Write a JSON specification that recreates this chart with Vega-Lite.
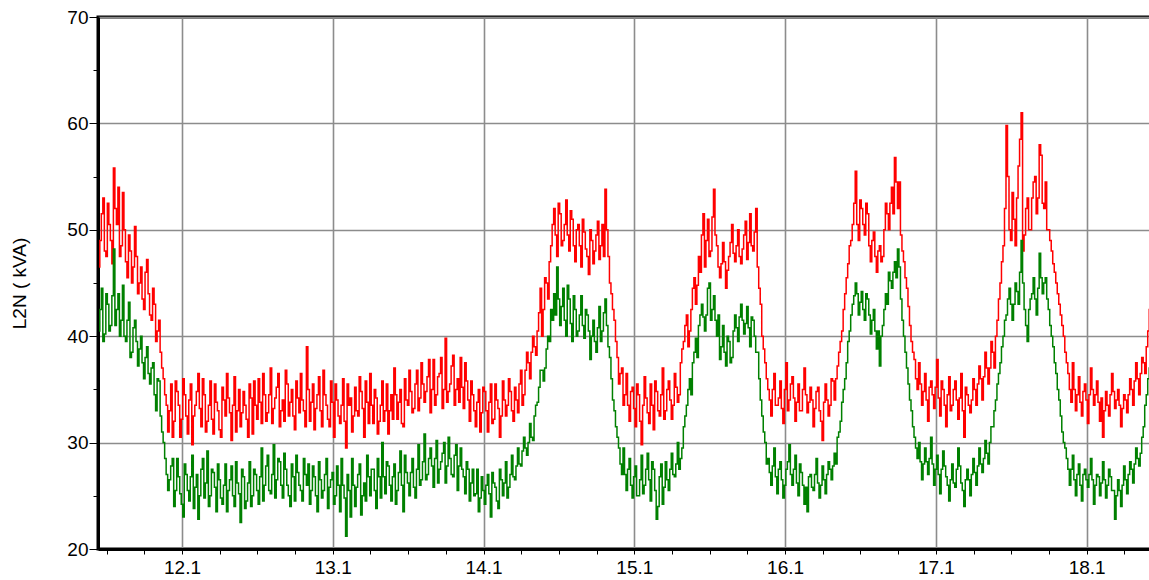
{
  "$schema": "https://vega.github.io/schema/vega-lite/v6.json",
  "width": 1055,
  "height": 532,
  "autosize": {"type": "none"},
  "padding": {"left": 98, "top": 17, "right": 0, "bottom": 31},
  "background": "white",
  "config": {
    "view": {"stroke": "black", "strokeWidth": 3},
    "font": "Liberation Sans",
    "axis": {"labelFont": "Liberation Sans", "titleFont": "Liberation Sans", "labelColor": "black", "titleColor": "black"}
  },
  "title": {
    "text": "Leistung: Von 11.01.2018 10:38:45 Bis 18.01.2018 10:34:00",
    "font": "Liberation Sans",
    "fontSize": 19,
    "fontWeight": "normal",
    "color": "black",
    "anchor": "middle",
    "frame": "group",
    "baseline": "alphabetic",
    "offset": 14,
    "dx": -30
  },
  "data": {"values": [
    {"d":11.45,"r":46.5,"g":40.5},{"d":11.47,"r":51.5,"g":44.5},{"d":11.49,"r":48.0,"g":40.2},{"d":11.51,"r":52.5,"g":43.0},{"d":11.53,"r":49.0,"g":41.0},{"d":11.55,"r":55.8,"g":48.2},{"d":11.57,"r":50.5,"g":42.5},{"d":11.59,"r":47.5,"g":40.0},{"d":11.61,"r":53.5,"g":44.8},
    {"d":11.63,"r":47.0,"g":39.5},{"d":11.65,"r":49.5,"g":43.2},{"d":11.67,"r":45.0,"g":38.5},{"d":11.69,"r":50.3,"g":41.5},{"d":11.71,"r":44.0,"g":37.2},{"d":11.73,"r":46.5,"g":40.0},{"d":11.75,"r":42.5,"g":36.0},{"d":11.77,"r":47.2,"g":39.0},{"d":11.79,"r":42.0,"g":35.5},
    {"d":11.81,"r":44.5,"g":37.5},{"d":11.83,"r":39.5,"g":33.0},{"d":11.85,"r":41.5,"g":35.8},{"d":11.87,"r":37.0,"g":31.0},{"d":11.89,"r":34.5,"g":28.5},
    {"d":11.91,"r":31.0,"g":25.5},{"d":11.93,"r":35.5,"g":27.8},{"d":11.95,"r":32.0,"g":24.0},{"d":11.97,"r":34.8,"g":28.5},{"d":11.99,"r":30.5,"g":25.2},{"d":12.01,"r":36.0,"g":23.0},{"d":12.03,"r":32.5,"g":27.0},{"d":12.05,"r":34.0,"g":24.5},{"d":12.07,"r":29.8,"g":28.8},{"d":12.09,"r":33.5,"g":25.8},
    {"d":12.11,"r":36.5,"g":22.8},{"d":12.13,"r":31.5,"g":27.5},{"d":12.15,"r":34.5,"g":24.8},{"d":12.17,"r":32.0,"g":29.2},{"d":12.19,"r":35.8,"g":25.0},{"d":12.21,"r":30.8,"g":27.2},{"d":12.23,"r":33.8,"g":23.5},{"d":12.25,"r":31.2,"g":26.5},{"d":12.27,"r":35.2,"g":24.2},{"d":12.29,"r":32.5,"g":28.0},
    {"d":12.31,"r":34.2,"g":25.5},{"d":12.33,"r":30.2,"g":27.8},{"d":12.35,"r":36.2,"g":24.0},{"d":12.37,"r":33.0,"g":26.2},{"d":12.39,"r":31.5,"g":22.5},{"d":12.41,"r":34.8,"g":26.8},{"d":12.43,"r":32.2,"g":24.5},{"d":12.45,"r":35.5,"g":28.2},{"d":12.47,"r":30.8,"g":25.0},{"d":12.49,"r":33.5,"g":27.0},
    {"d":12.51,"r":36.0,"g":24.2},{"d":12.53,"r":31.8,"g":29.5},{"d":12.55,"r":34.5,"g":26.0},{"d":12.57,"r":32.8,"g":28.8},{"d":12.59,"r":37.0,"g":25.2},{"d":12.61,"r":33.2,"g":29.8},{"d":12.63,"r":35.2,"g":26.5},{"d":12.65,"r":31.5,"g":28.2},{"d":12.67,"r":34.0,"g":24.8},{"d":12.69,"r":36.8,"g":27.5},
    {"d":12.71,"r":32.5,"g":25.0},{"d":12.73,"r":35.0,"g":28.0},{"d":12.75,"r":31.2,"g":24.5},{"d":12.77,"r":34.2,"g":27.2},{"d":12.79,"r":36.5,"g":25.5},{"d":12.81,"r":33.0,"g":28.5},{"d":12.83,"r":39.0,"g":26.0},{"d":12.85,"r":32.0,"g":24.2},{"d":12.87,"r":35.5,"g":27.8},{"d":12.89,"r":33.2,"g":25.0},
    {"d":12.91,"r":36.2,"g":28.2},{"d":12.93,"r":31.5,"g":24.8},{"d":12.95,"r":34.5,"g":27.0},{"d":12.97,"r":32.2,"g":23.8},{"d":12.99,"r":35.8,"g":26.5},{"d":13.01,"r":30.5,"g":24.2},{"d":13.03,"r":34.0,"g":27.8},{"d":13.05,"r":31.8,"g":23.5},{"d":13.07,"r":36.0,"g":26.0},{"d":13.09,"r":29.5,"g":21.2},
    {"d":13.11,"r":33.5,"g":25.5},{"d":13.13,"r":31.0,"g":28.5},{"d":13.15,"r":35.2,"g":24.0},{"d":13.17,"r":32.5,"g":27.0},{"d":13.19,"r":34.8,"g":23.2},{"d":13.21,"r":30.5,"g":26.2},{"d":13.23,"r":33.8,"g":28.8},{"d":13.25,"r":36.5,"g":25.0},{"d":13.27,"r":31.8,"g":27.5},{"d":13.29,"r":34.2,"g":23.8},
    {"d":13.31,"r":32.0,"g":26.8},{"d":13.33,"r":35.8,"g":30.0},{"d":13.35,"r":33.0,"g":25.2},{"d":13.37,"r":30.8,"g":27.8},{"d":13.39,"r":34.5,"g":24.5},{"d":13.41,"r":37.0,"g":28.0},{"d":13.43,"r":32.2,"g":25.5},{"d":13.45,"r":35.0,"g":29.2},{"d":13.47,"r":31.5,"g":23.5},{"d":13.49,"r":34.0,"g":27.2},
    {"d":13.51,"r":36.8,"g":25.0},{"d":13.53,"r":32.8,"g":28.5},{"d":13.55,"r":35.5,"g":24.8},{"d":13.57,"r":33.0,"g":29.8},{"d":13.59,"r":37.5,"g":26.5},{"d":13.61,"r":33.8,"g":30.8},{"d":13.63,"r":36.2,"g":27.0},{"d":13.65,"r":32.8,"g":29.5},{"d":13.67,"r":37.8,"g":25.8},{"d":13.69,"r":34.5,"g":30.2},
    {"d":13.71,"r":36.5,"g":27.5},{"d":13.73,"r":33.2,"g":29.0},{"d":13.75,"r":39.8,"g":26.2},{"d":13.77,"r":34.8,"g":30.5},{"d":13.79,"r":37.2,"g":27.0},{"d":13.81,"r":33.5,"g":28.8},{"d":13.83,"r":36.0,"g":25.5},{"d":13.85,"r":38.0,"g":29.5},{"d":13.87,"r":33.2,"g":26.8},{"d":13.89,"r":35.8,"g":28.2},
    {"d":13.91,"r":32.0,"g":24.5},{"d":13.93,"r":34.5,"g":27.5},{"d":13.95,"r":31.5,"g":25.2},{"d":13.97,"r":35.0,"g":23.5},{"d":13.99,"r":32.8,"g":26.8},{"d":14.01,"r":34.8,"g":24.2},{"d":14.03,"r":31.0,"g":27.0},{"d":14.05,"r":35.5,"g":23.0},{"d":14.07,"r":32.2,"g":26.2},{"d":14.09,"r":34.0,"g":24.5},
    {"d":14.11,"r":30.5,"g":27.5},{"d":14.13,"r":35.8,"g":25.0},{"d":14.15,"r":32.5,"g":28.2},{"d":14.17,"r":36.0,"g":25.8},{"d":14.19,"r":33.0,"g":28.8},{"d":14.21,"r":35.2,"g":26.5},{"d":14.23,"r":32.8,"g":29.5},
    {"d":14.25,"r":36.8,"g":27.8},{"d":14.27,"r":34.5,"g":30.5},{"d":14.29,"r":38.5,"g":28.8},{"d":14.31,"r":36.0,"g":31.8},{"d":14.33,"r":40.0,"g":30.2},{"d":14.35,"r":38.2,"g":33.5},{"d":14.37,"r":42.2,"g":35.2},{"d":14.39,"r":40.0,"g":36.8},{"d":14.41,"r":45.5,"g":37.0},{"d":14.43,"r":43.5,"g":40.0},{"d":14.45,"r":48.5,"g":42.5},
    {"d":14.47,"r":52.0,"g":44.0},{"d":14.49,"r":47.5,"g":46.5},{"d":14.51,"r":51.5,"g":41.0},{"d":14.53,"r":49.0,"g":44.5},{"d":14.55,"r":52.8,"g":40.0},{"d":14.57,"r":48.0,"g":43.5},{"d":14.59,"r":51.0,"g":39.5},{"d":14.61,"r":47.0,"g":42.5},{"d":14.63,"r":50.5,"g":40.5},{"d":14.65,"r":46.5,"g":43.8},
    {"d":14.67,"r":49.8,"g":39.8},{"d":14.69,"r":47.5,"g":42.0},{"d":14.71,"r":50.0,"g":37.8},{"d":14.73,"r":46.8,"g":41.5},{"d":14.75,"r":49.5,"g":38.5},{"d":14.77,"r":47.2,"g":42.8},{"d":14.79,"r":50.5,"g":40.5},{"d":14.81,"r":53.8,"g":43.5},
    {"d":14.83,"r":47.5,"g":39.0},{"d":14.85,"r":44.0,"g":36.0},{"d":14.87,"r":41.5,"g":33.0},{"d":14.89,"r":38.0,"g":30.5},{"d":14.91,"r":36.5,"g":28.0},{"d":14.93,"r":33.5,"g":29.5},
    {"d":14.95,"r":36.5,"g":25.5},{"d":14.97,"r":32.0,"g":28.5},{"d":14.99,"r":35.2,"g":24.8},{"d":15.01,"r":31.5,"g":27.8},{"d":15.03,"r":34.5,"g":25.0},{"d":15.05,"r":29.8,"g":28.8},{"d":15.07,"r":36.2,"g":26.0},{"d":15.09,"r":32.8,"g":29.0},{"d":15.11,"r":35.5,"g":24.5},{"d":15.13,"r":31.2,"g":27.5},
    {"d":15.15,"r":34.8,"g":22.8},{"d":15.17,"r":32.5,"g":26.8},{"d":15.19,"r":37.0,"g":24.2},{"d":15.21,"r":33.0,"g":28.2},{"d":15.23,"r":35.8,"g":25.5},{"d":15.25,"r":32.2,"g":29.0},{"d":15.27,"r":36.5,"g":26.8},{"d":15.29,"r":33.8,"g":30.0},{"d":15.31,"r":37.5,"g":28.5},
    {"d":15.33,"r":39.5,"g":31.5},{"d":15.35,"r":42.0,"g":33.5},{"d":15.37,"r":40.5,"g":36.0},{"d":15.39,"r":44.5,"g":37.5},{"d":15.41,"r":43.0,"g":39.8},{"d":15.43,"r":47.5,"g":41.0},{"d":15.45,"r":49.5,"g":43.0},
    {"d":15.47,"r":46.5,"g":40.5},{"d":15.49,"r":51.0,"g":44.5},{"d":15.51,"r":48.0,"g":41.5},{"d":15.53,"r":53.8,"g":43.8},{"d":15.55,"r":48.5,"g":40.0},{"d":15.57,"r":45.5,"g":37.8},{"d":15.59,"r":48.8,"g":41.0},{"d":15.61,"r":44.5,"g":37.2},{"d":15.63,"r":47.5,"g":39.5},{"d":15.65,"r":50.5,"g":38.0},
    {"d":15.67,"r":47.0,"g":42.0},{"d":15.69,"r":50.0,"g":39.5},{"d":15.71,"r":46.8,"g":43.0},{"d":15.73,"r":49.5,"g":40.2},{"d":15.75,"r":47.2,"g":42.8},{"d":15.77,"r":51.5,"g":39.0},{"d":15.79,"r":48.0,"g":41.5},{"d":15.81,"r":52.0,"g":38.5},
    {"d":15.83,"r":44.5,"g":36.0},{"d":15.85,"r":40.0,"g":32.5},{"d":15.87,"r":37.5,"g":30.0},
    {"d":15.89,"r":35.0,"g":28.5},{"d":15.91,"r":32.5,"g":26.0},{"d":15.93,"r":36.5,"g":29.5},{"d":15.95,"r":33.5,"g":25.2},{"d":15.97,"r":35.8,"g":28.2},{"d":15.99,"r":31.8,"g":24.8},{"d":16.01,"r":37.5,"g":27.5},{"d":16.03,"r":34.0,"g":29.8},{"d":16.05,"r":36.2,"g":26.0},{"d":16.07,"r":32.0,"g":28.8},
    {"d":16.09,"r":35.5,"g":25.0},{"d":16.11,"r":33.0,"g":27.2},{"d":16.13,"r":37.0,"g":24.2},{"d":16.15,"r":32.8,"g":23.5},{"d":16.17,"r":35.2,"g":27.0},{"d":16.19,"r":31.5,"g":25.5},{"d":16.21,"r":34.8,"g":28.5},{"d":16.23,"r":33.0,"g":24.8},{"d":16.25,"r":30.2,"g":27.8},{"d":16.27,"r":35.5,"g":25.2},
    {"d":16.29,"r":32.5,"g":28.2},{"d":16.31,"r":36.0,"g":26.5},{"d":16.33,"r":34.0,"g":29.0},{"d":16.35,"r":37.2,"g":30.5},
    {"d":16.37,"r":39.5,"g":32.0},{"d":16.39,"r":42.5,"g":35.0},{"d":16.41,"r":45.5,"g":37.5},{"d":16.43,"r":48.5,"g":40.5},
    {"d":16.45,"r":50.5,"g":43.0},{"d":16.47,"r":55.5,"g":45.0},{"d":16.49,"r":49.0,"g":42.0},{"d":16.51,"r":52.0,"g":44.2},{"d":16.53,"r":49.5,"g":41.5},{"d":16.55,"r":51.5,"g":43.5},{"d":16.57,"r":47.0,"g":40.2},{"d":16.59,"r":49.8,"g":42.5},{"d":16.61,"r":46.0,"g":38.8},{"d":16.63,"r":48.5,"g":37.2},
    {"d":16.65,"r":47.5,"g":41.0},{"d":16.67,"r":52.5,"g":44.0},{"d":16.69,"r":50.0,"g":46.0},{"d":16.71,"r":54.0,"g":44.5},{"d":16.73,"r":56.8,"g":47.0},{"d":16.75,"r":52.0,"g":48.2},{"d":16.77,"r":49.5,"g":43.5},
    {"d":16.79,"r":47.0,"g":40.0},{"d":16.81,"r":44.5,"g":37.0},{"d":16.83,"r":41.0,"g":34.0},{"d":16.85,"r":38.5,"g":31.5},{"d":16.87,"r":36.0,"g":29.5},
    {"d":16.89,"r":37.5,"g":30.0},{"d":16.91,"r":33.5,"g":26.5},{"d":16.93,"r":36.5,"g":29.5},{"d":16.95,"r":32.0,"g":27.0},{"d":16.97,"r":35.8,"g":30.5},{"d":16.99,"r":33.2,"g":26.0},{"d":17.01,"r":37.8,"g":28.8},{"d":17.03,"r":32.5,"g":25.2},{"d":17.05,"r":35.0,"g":29.2},{"d":17.07,"r":31.5,"g":26.8},
    {"d":17.09,"r":36.2,"g":24.5},{"d":17.11,"r":33.5,"g":28.0},{"d":17.13,"r":35.8,"g":25.8},{"d":17.15,"r":32.2,"g":29.5},{"d":17.17,"r":36.5,"g":26.2},{"d":17.19,"r":30.5,"g":24.0},{"d":17.21,"r":34.5,"g":27.5},{"d":17.23,"r":32.8,"g":25.0},{"d":17.25,"r":36.0,"g":28.5},{"d":17.27,"r":33.5,"g":26.0},
    {"d":17.29,"r":37.2,"g":29.5},{"d":17.31,"r":34.0,"g":27.2},{"d":17.33,"r":38.5,"g":30.2},{"d":17.35,"r":35.5,"g":28.0},{"d":17.37,"r":39.5,"g":31.5},{"d":17.39,"r":37.0,"g":33.0},
    {"d":17.41,"r":41.5,"g":35.5},{"d":17.43,"r":45.0,"g":37.5},{"d":17.45,"r":48.5,"g":40.0},{"d":17.47,"r":59.8,"g":42.0},
    {"d":17.49,"r":50.0,"g":44.5},{"d":17.51,"r":53.5,"g":41.5},{"d":17.53,"r":48.5,"g":45.0},{"d":17.55,"r":56.0,"g":43.0},{"d":17.57,"r":61.0,"g":49.0},{"d":17.59,"r":49.5,"g":42.5},{"d":17.61,"r":53.0,"g":39.5},{"d":17.63,"r":50.0,"g":43.5},{"d":17.65,"r":54.5,"g":45.5},{"d":17.67,"r":51.5,"g":42.0},
    {"d":17.69,"r":58.0,"g":47.8},{"d":17.71,"r":52.5,"g":44.0},{"d":17.73,"r":54.5,"g":45.5},{"d":17.75,"r":50.0,"g":42.5},
    {"d":17.77,"r":48.0,"g":40.0},{"d":17.79,"r":46.0,"g":37.5},{"d":17.81,"r":44.0,"g":35.0},{"d":17.83,"r":42.0,"g":32.5},{"d":17.85,"r":40.0,"g":30.0},{"d":17.87,"r":37.5,"g":28.5},
    {"d":17.89,"r":35.0,"g":26.0},{"d":17.91,"r":37.5,"g":28.8},{"d":17.93,"r":33.0,"g":25.0},{"d":17.95,"r":36.2,"g":28.0},{"d":17.97,"r":32.5,"g":24.5},{"d":17.99,"r":35.5,"g":27.5},{"d":18.01,"r":31.8,"g":25.8},{"d":18.03,"r":37.0,"g":28.5},{"d":18.05,"r":33.5,"g":24.2},{"d":18.07,"r":35.8,"g":27.0},
    {"d":18.09,"r":32.0,"g":25.0},{"d":18.11,"r":30.5,"g":28.2},{"d":18.13,"r":34.8,"g":24.8},{"d":18.15,"r":32.5,"g":27.5},{"d":18.17,"r":36.5,"g":25.5},{"d":18.19,"r":33.2,"g":22.8},{"d":18.21,"r":35.0,"g":26.5},{"d":18.23,"r":31.5,"g":24.0},{"d":18.25,"r":34.5,"g":27.8},{"d":18.27,"r":32.8,"g":25.2},
    {"d":18.29,"r":36.0,"g":28.2},{"d":18.31,"r":33.5,"g":26.2},{"d":18.33,"r":37.5,"g":29.5},{"d":18.35,"r":34.5,"g":27.8},{"d":18.37,"r":38.0,"g":30.5},{"d":18.39,"r":36.5,"g":33.5},{"d":18.41,"r":40.5,"g":36.0},{"d":18.43,"r":46.0,"g":38.5},

    {"d":11.46,"r":49.0,"g":42.5},{"d":11.48,"r":53.0,"g":39.5},{"d":11.50,"r":47.5,"g":44.0},{"d":11.52,"r":50.5,"g":40.5},{"d":11.54,"r":46.8,"g":43.8},{"d":11.56,"r":52.0,"g":41.0},{"d":11.58,"r":54.0,"g":44.0},{"d":11.60,"r":48.5,"g":41.5},{"d":11.62,"r":50.0,"g":40.0},
    {"d":11.64,"r":45.5,"g":41.5},{"d":11.66,"r":48.0,"g":38.0},{"d":11.68,"r":46.5,"g":40.8},{"d":11.70,"r":47.5,"g":39.5},{"d":11.72,"r":45.0,"g":38.8},{"d":11.74,"r":43.5,"g":37.5},{"d":11.76,"r":46.0,"g":38.0},{"d":11.78,"r":44.0,"g":36.5},{"d":11.80,"r":41.5,"g":37.0},
    {"d":11.82,"r":43.0,"g":34.5},{"d":11.84,"r":40.5,"g":36.0},{"d":11.86,"r":38.5,"g":32.5},{"d":11.88,"r":36.0,"g":30.0},{"d":11.90,"r":33.5,"g":27.0},
    {"d":11.92,"r":33.0,"g":26.5},{"d":11.94,"r":30.5,"g":28.5},{"d":11.96,"r":35.8,"g":25.5},{"d":11.98,"r":33.5,"g":26.8},{"d":12.00,"r":32.2,"g":24.2},{"d":12.02,"r":34.5,"g":28.0},{"d":12.04,"r":30.8,"g":25.5},{"d":12.06,"r":35.5,"g":26.8},{"d":12.08,"r":32.5,"g":23.8},{"d":12.10,"r":34.8,"g":27.0},
    {"d":12.12,"r":33.2,"g":25.0},{"d":12.14,"r":36.0,"g":28.5},{"d":12.16,"r":31.0,"g":26.2},{"d":12.18,"r":33.5,"g":24.0},{"d":12.20,"r":32.2,"g":27.5},{"d":12.22,"r":35.5,"g":25.8},{"d":12.24,"r":33.0,"g":28.0},{"d":12.26,"r":30.5,"g":24.8},{"d":12.28,"r":34.0,"g":26.0},{"d":12.30,"r":36.5,"g":23.5},
    {"d":12.32,"r":32.8,"g":26.5},{"d":12.34,"r":33.5,"g":25.0},{"d":12.36,"r":31.0,"g":28.2},{"d":12.38,"r":35.0,"g":25.2},{"d":12.40,"r":32.8,"g":27.5},{"d":12.42,"r":33.5,"g":23.8},{"d":12.44,"r":30.5,"g":26.2},{"d":12.46,"r":34.2,"g":24.0},{"d":12.48,"r":35.8,"g":27.5},{"d":12.50,"r":32.2,"g":25.5},
    {"d":12.52,"r":33.8,"g":26.8},{"d":12.54,"r":36.5,"g":24.5},{"d":12.56,"r":32.0,"g":27.8},{"d":12.58,"r":34.5,"g":25.5},{"d":12.60,"r":31.8,"g":27.0},{"d":12.62,"r":34.2,"g":24.8},{"d":12.64,"r":36.5,"g":28.5},{"d":12.66,"r":33.0,"g":26.0},{"d":12.68,"r":32.0,"g":29.0},{"d":12.70,"r":35.5,"g":26.0},
    {"d":12.72,"r":33.8,"g":24.0},{"d":12.74,"r":32.5,"g":26.8},{"d":12.76,"r":35.8,"g":28.8},{"d":12.78,"r":32.8,"g":26.0},{"d":12.80,"r":34.0,"g":24.5},{"d":12.82,"r":31.5,"g":27.0},{"d":12.84,"r":35.0,"g":28.0},{"d":12.86,"r":33.8,"g":25.5},{"d":12.88,"r":31.2,"g":26.8},{"d":12.90,"r":34.5,"g":23.5},
    {"d":12.92,"r":33.0,"g":26.5},{"d":12.94,"r":36.8,"g":25.5},{"d":12.96,"r":33.5,"g":28.5},{"d":12.98,"r":31.5,"g":25.8},{"d":13.00,"r":33.8,"g":27.2},{"d":13.02,"r":35.5,"g":25.0},{"d":13.04,"r":32.5,"g":26.0},{"d":13.06,"r":33.5,"g":28.5},{"d":13.08,"r":32.0,"g":24.8},{"d":13.10,"r":35.5,"g":27.0},
    {"d":13.12,"r":34.2,"g":23.0},{"d":13.14,"r":32.5,"g":26.0},{"d":13.16,"r":33.0,"g":25.8},{"d":13.18,"r":36.2,"g":28.0},{"d":13.20,"r":33.2,"g":25.0},{"d":13.22,"r":35.8,"g":24.5},{"d":13.24,"r":31.8,"g":26.8},{"d":13.26,"r":33.5,"g":27.5},{"d":13.28,"r":35.0,"g":25.5},{"d":13.30,"r":30.8,"g":28.5},
    {"d":13.32,"r":33.5,"g":24.8},{"d":13.34,"r":32.0,"g":26.8},{"d":13.36,"r":35.5,"g":28.2},{"d":13.38,"r":33.0,"g":26.0},{"d":13.40,"r":32.2,"g":26.8},{"d":13.42,"r":34.5,"g":24.2},{"d":13.44,"r":33.8,"g":27.2},{"d":13.46,"r":31.8,"g":26.0},{"d":13.48,"r":36.0,"g":28.8},{"d":13.50,"r":33.5,"g":26.2},
    {"d":13.52,"r":34.8,"g":27.2},{"d":13.54,"r":33.2,"g":25.8},{"d":13.56,"r":36.8,"g":27.5},{"d":13.58,"r":34.2,"g":26.0},{"d":13.60,"r":35.5,"g":28.2},{"d":13.62,"r":34.8,"g":26.5},{"d":13.64,"r":37.8,"g":28.5},{"d":13.66,"r":35.0,"g":27.8},{"d":13.68,"r":33.5,"g":28.5},{"d":13.70,"r":36.2,"g":26.2},
    {"d":13.72,"r":38.0,"g":28.2},{"d":13.74,"r":35.0,"g":30.0},{"d":13.76,"r":33.8,"g":27.8},{"d":13.78,"r":35.5,"g":28.5},{"d":13.80,"r":38.2,"g":26.8},{"d":13.82,"r":35.0,"g":29.8},{"d":13.84,"r":33.8,"g":27.8},{"d":13.86,"r":35.2,"g":27.5},{"d":13.88,"r":37.5,"g":25.2},{"d":13.90,"r":34.0,"g":27.5},
    {"d":13.92,"r":35.8,"g":26.2},{"d":13.94,"r":33.0,"g":25.0},{"d":13.96,"r":33.8,"g":27.5},{"d":13.98,"r":31.0,"g":24.8},{"d":14.00,"r":35.2,"g":25.5},{"d":14.02,"r":33.0,"g":26.0},{"d":14.04,"r":33.8,"g":25.2},{"d":14.06,"r":31.8,"g":27.2},{"d":14.08,"r":35.5,"g":25.8},{"d":14.10,"r":33.2,"g":23.8},
    {"d":14.12,"r":32.5,"g":26.5},{"d":14.14,"r":34.0,"g":26.2},{"d":14.16,"r":33.5,"g":24.8},{"d":14.18,"r":34.8,"g":27.0},{"d":14.20,"r":32.0,"g":26.8},{"d":14.22,"r":34.0,"g":27.8},{"d":14.24,"r":35.5,"g":28.0},
    {"d":14.26,"r":33.5,"g":29.2},{"d":14.28,"r":36.8,"g":29.5},{"d":14.30,"r":37.5,"g":30.0},{"d":14.32,"r":38.5,"g":30.5},{"d":14.34,"r":39.0,"g":32.5},{"d":14.36,"r":40.5,"g":33.8},{"d":14.38,"r":44.5,"g":36.8},{"d":14.40,"r":42.5,"g":35.8},{"d":14.42,"r":45.0,"g":38.8},{"d":14.44,"r":47.0,"g":39.5},{"d":14.46,"r":50.5,"g":41.5},
    {"d":14.48,"r":49.5,"g":42.0},{"d":14.50,"r":52.5,"g":43.5},{"d":14.52,"r":48.5,"g":42.8},{"d":14.54,"r":50.5,"g":41.5},{"d":14.56,"r":49.5,"g":44.8},{"d":14.58,"r":51.8,"g":41.2},{"d":14.60,"r":48.5,"g":43.8},{"d":14.62,"r":50.0,"g":40.0},{"d":14.64,"r":48.5,"g":42.0},{"d":14.66,"r":51.0,"g":41.0},
    {"d":14.68,"r":48.2,"g":42.5},{"d":14.70,"r":45.8,"g":40.5},{"d":14.72,"r":49.0,"g":40.0},{"d":14.74,"r":48.0,"g":39.5},{"d":14.76,"r":50.8,"g":40.8},{"d":14.78,"r":48.5,"g":39.5},{"d":14.80,"r":47.5,"g":42.2},
    {"d":14.82,"r":50.0,"g":41.0},{"d":14.84,"r":45.0,"g":38.0},{"d":14.86,"r":42.5,"g":34.0},{"d":14.88,"r":39.5,"g":31.5},{"d":14.90,"r":35.5,"g":29.5},{"d":14.92,"r":37.0,"g":27.0},{"d":14.94,"r":34.5,"g":27.0},
    {"d":14.96,"r":33.5,"g":27.5},{"d":14.98,"r":34.8,"g":26.0},{"d":15.00,"r":33.2,"g":26.8},{"d":15.02,"r":35.5,"g":25.0},{"d":15.04,"r":32.0,"g":26.5},{"d":15.06,"r":33.5,"g":25.2},{"d":15.08,"r":34.2,"g":27.5},{"d":15.10,"r":31.8,"g":26.5},{"d":15.12,"r":33.5,"g":28.2},{"d":15.14,"r":35.8,"g":25.5},
    {"d":15.16,"r":33.0,"g":24.0},{"d":15.18,"r":34.5,"g":28.0},{"d":15.20,"r":32.2,"g":25.8},{"d":15.22,"r":35.0,"g":26.5},{"d":15.24,"r":34.0,"g":27.5},{"d":15.26,"r":33.5,"g":27.0},{"d":15.28,"r":35.2,"g":28.0},{"d":15.30,"r":34.5,"g":27.5},{"d":15.32,"r":38.8,"g":29.5},
    {"d":15.34,"r":41.0,"g":32.5},{"d":15.36,"r":39.0,"g":35.0},{"d":15.38,"r":42.5,"g":34.5},{"d":15.40,"r":45.5,"g":38.5},{"d":15.42,"r":44.8,"g":38.0},{"d":15.44,"r":46.0,"g":42.0},{"d":15.46,"r":51.5,"g":41.8},
    {"d":15.48,"r":49.0,"g":42.0},{"d":15.50,"r":47.5,"g":45.0},{"d":15.52,"r":51.2,"g":42.5},{"d":15.54,"r":49.5,"g":41.5},{"d":15.56,"r":46.5,"g":42.0},{"d":15.58,"r":46.8,"g":39.0},{"d":15.60,"r":47.0,"g":38.5},{"d":15.62,"r":46.2,"g":40.0},{"d":15.64,"r":48.8,"g":37.5},{"d":15.66,"r":47.8,"g":40.5},
    {"d":15.68,"r":48.5,"g":40.8},{"d":15.70,"r":47.5,"g":41.8},{"d":15.72,"r":48.2,"g":41.5},{"d":15.74,"r":50.8,"g":41.2},{"d":15.76,"r":48.8,"g":40.8},{"d":15.78,"r":48.5,"g":41.8},{"d":15.80,"r":49.8,"g":40.0},
    {"d":15.82,"r":46.5,"g":38.5},{"d":15.84,"r":43.0,"g":34.0},{"d":15.86,"r":38.8,"g":31.0},{"d":15.88,"r":36.0,"g":28.0},
    {"d":15.90,"r":34.0,"g":27.2},{"d":15.92,"r":35.0,"g":27.8},{"d":15.94,"r":33.5,"g":26.8},{"d":15.96,"r":34.2,"g":27.5},{"d":15.98,"r":33.2,"g":26.5},{"d":16.00,"r":35.0,"g":26.0},{"d":16.02,"r":33.0,"g":28.2},{"d":16.04,"r":35.5,"g":27.0},{"d":16.06,"r":34.2,"g":27.5},{"d":16.08,"r":33.8,"g":26.2},
    {"d":16.10,"r":33.0,"g":28.0},{"d":16.12,"r":35.0,"g":26.0},{"d":16.14,"r":34.5,"g":25.8},{"d":16.16,"r":33.8,"g":26.8},{"d":16.18,"r":34.0,"g":25.8},{"d":16.20,"r":33.2,"g":27.0},{"d":16.22,"r":35.2,"g":26.2},{"d":16.24,"r":32.0,"g":26.0},{"d":16.26,"r":33.8,"g":26.5},{"d":16.28,"r":34.0,"g":27.0},
    {"d":16.30,"r":33.5,"g":27.5},{"d":16.32,"r":35.8,"g":27.8},{"d":16.34,"r":36.0,"g":28.0},{"d":16.36,"r":38.5,"g":31.0},
    {"d":16.38,"r":40.5,"g":33.8},{"d":16.40,"r":44.0,"g":36.0},{"d":16.42,"r":46.8,"g":39.5},{"d":16.44,"r":49.0,"g":42.0},
    {"d":16.46,"r":52.5,"g":43.8},{"d":16.48,"r":50.5,"g":44.0},{"d":16.50,"r":52.8,"g":43.2},{"d":16.52,"r":50.5,"g":42.5},{"d":16.54,"r":52.5,"g":44.0},{"d":16.56,"r":48.5,"g":42.0},{"d":16.58,"r":49.0,"g":41.5},{"d":16.60,"r":47.5,"g":40.5},{"d":16.62,"r":48.0,"g":40.5},{"d":16.64,"r":47.0,"g":40.0},
    {"d":16.66,"r":50.0,"g":42.5},{"d":16.68,"r":51.5,"g":43.0},{"d":16.70,"r":52.5,"g":45.2},{"d":16.72,"r":51.5,"g":46.0},{"d":16.74,"r":54.5,"g":45.5},{"d":16.76,"r":54.5,"g":46.5},{"d":16.78,"r":48.0,"g":41.5},
    {"d":16.80,"r":45.5,"g":38.5},{"d":16.82,"r":42.8,"g":35.5},{"d":16.84,"r":39.5,"g":33.0},{"d":16.86,"r":37.8,"g":30.5},{"d":16.88,"r":35.0,"g":28.5},
    {"d":16.90,"r":35.5,"g":28.2},{"d":16.92,"r":34.8,"g":28.0},{"d":16.94,"r":34.0,"g":28.2},{"d":16.96,"r":35.2,"g":28.5},{"d":16.98,"r":34.5,"g":28.0},{"d":17.00,"r":35.2,"g":27.5},{"d":17.02,"r":34.2,"g":27.0},{"d":17.04,"r":35.8,"g":27.5},{"d":17.06,"r":33.5,"g":27.8},{"d":17.08,"r":34.5,"g":26.0},
    {"d":17.10,"r":33.0,"g":26.5},{"d":17.12,"r":35.0,"g":26.2},{"d":17.14,"r":34.0,"g":27.5},{"d":17.16,"r":34.2,"g":27.8},{"d":17.18,"r":33.0,"g":25.5},{"d":17.20,"r":35.2,"g":26.5},{"d":17.22,"r":33.5,"g":26.5},{"d":17.24,"r":34.0,"g":27.0},{"d":17.26,"r":35.0,"g":27.2},{"d":17.28,"r":35.5,"g":27.8},
    {"d":17.30,"r":36.0,"g":28.0},{"d":17.32,"r":36.2,"g":28.5},{"d":17.34,"r":37.0,"g":29.0},{"d":17.36,"r":37.0,"g":30.0},{"d":17.38,"r":38.5,"g":31.5},{"d":17.40,"r":40.0,"g":34.0},
    {"d":17.42,"r":43.5,"g":36.5},{"d":17.44,"r":47.0,"g":39.0},{"d":17.46,"r":52.0,"g":41.5},{"d":17.48,"r":55.0,"g":43.5},
    {"d":17.50,"r":49.0,"g":43.0},{"d":17.52,"r":51.0,"g":43.0},{"d":17.54,"r":53.0,"g":44.2},{"d":17.56,"r":58.5,"g":46.0},{"d":17.58,"r":48.0,"g":45.0},{"d":17.60,"r":52.0,"g":41.0},{"d":17.62,"r":50.0,"g":42.5},{"d":17.64,"r":53.0,"g":44.0},{"d":17.66,"r":55.0,"g":43.5},{"d":17.68,"r":53.0,"g":44.5},
    {"d":17.70,"r":57.0,"g":45.5},{"d":17.72,"r":52.0,"g":45.0},{"d":17.74,"r":50.0,"g":43.5},{"d":17.76,"r":49.0,"g":41.0},
    {"d":17.78,"r":46.8,"g":39.0},{"d":17.80,"r":45.0,"g":36.5},{"d":17.82,"r":43.0,"g":34.0},{"d":17.84,"r":41.0,"g":31.0},{"d":17.86,"r":38.5,"g":29.5},{"d":17.88,"r":36.5,"g":27.5},
    {"d":17.90,"r":33.8,"g":27.5},{"d":17.92,"r":35.0,"g":26.5},{"d":17.94,"r":34.5,"g":27.0},{"d":17.96,"r":33.8,"g":26.0},{"d":17.98,"r":34.8,"g":27.0},{"d":18.00,"r":34.0,"g":26.5},{"d":18.02,"r":34.5,"g":27.0},{"d":18.04,"r":35.0,"g":26.5},{"d":18.06,"r":34.5,"g":26.0},{"d":18.08,"r":33.8,"g":26.8},
    {"d":18.10,"r":34.2,"g":26.2},{"d":18.12,"r":33.0,"g":26.5},{"d":18.14,"r":33.5,"g":26.0},{"d":18.16,"r":34.5,"g":26.8},{"d":18.18,"r":34.8,"g":25.5},{"d":18.20,"r":34.0,"g":25.0},{"d":18.22,"r":33.5,"g":25.5},{"d":18.24,"r":33.2,"g":26.0},{"d":18.26,"r":34.0,"g":26.5},{"d":18.28,"r":34.5,"g":27.0},
    {"d":18.30,"r":35.0,"g":27.5},{"d":18.32,"r":35.8,"g":28.0},{"d":18.34,"r":36.0,"g":28.5},{"d":18.36,"r":36.5,"g":29.0},{"d":18.38,"r":37.5,"g":31.5},{"d":18.40,"r":39.0,"g":34.5},{"d":18.42,"r":42.5,"g":37.0}
  ]},
  "encoding": {
    "x": {
      "field": "d",
      "type": "quantitative",
      "scale": {"domain": [11.443, 18.44], "nice": false, "zero": false},
      "axis": {
        "title": null,
        "values": [11.5,11.75,12,12.25,12.5,12.75,13,13.25,13.5,13.75,14,14.25,14.5,14.75,15,15.25,15.5,15.75,16,16.25,16.5,16.75,17,17.25,17.5,17.75,18,18.25],
        "labelExpr": "datum.value % 1 === 0 ? datum.value + '.1' : ''",
        "labelFontSize": 19,
        "labelPadding": 4,
        "labelFlush": false,
        "labelOverlap": false,
        "tickSize": 5,
        "tickColor": "black",
        "tickWidth": 1,
        "domainColor": "black",
        "domainWidth": 3,
        "grid": true,
        "gridColor": "#8c8c8c",
        "gridWidth": 1.6,
        "gridOpacity": {"condition": {"test": "datum.value % 1 === 0", "value": 1}, "value": 0}
      }
    },
    "order": {"field": "d", "type": "quantitative"}
  },
  "layer": [
    {
      "mark": {"type": "line", "color": "#ff0000", "strokeWidth": 1.5, "interpolate": "step", "clip": true},
      "encoding": {
        "y": {
          "field": "r",
          "type": "quantitative",
          "scale": {"domain": [20, 70], "nice": false, "zero": false},
          "axis": {
            "title": "L2N ( kVA)",
            "titleFontSize": 19,
            "titleFontWeight": "normal",
            "titlePadding": 37,
            "values": [20,22.5,25,27.5,30,32.5,35,37.5,40,42.5,45,47.5,50,52.5,55,57.5,60,62.5,65,67.5,70],
            "labelExpr": "datum.value % 10 === 0 ? datum.label : ''",
            "labelFontSize": 19,
            "labelPadding": 1,
            "labelOverlap": false,
            "labelFlush": false,
            "tickColor": "black",
            "tickWidth": 1,
            "tickSize": {"condition": {"test": "datum.value % 10 === 0", "value": 9}, "value": 5},
            "domainColor": "black",
            "domainWidth": 3,
            "grid": true,
            "gridColor": "#8c8c8c",
            "gridWidth": 1.6,
            "gridOpacity": {"condition": {"test": "datum.value % 10 === 0", "value": 1}, "value": 0}
          }
        }
      }
    },
    {
      "mark": {"type": "line", "color": "#008000", "strokeWidth": 1.5, "interpolate": "step", "clip": true},
      "encoding": {
        "y": {"field": "g", "type": "quantitative"}
      }
    }
  ]
}
